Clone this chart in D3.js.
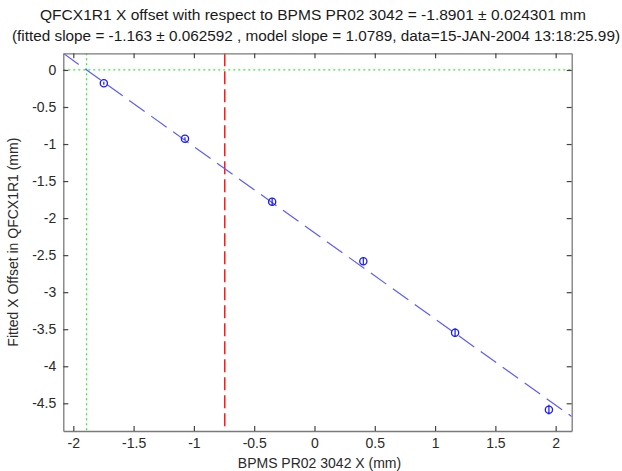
<!DOCTYPE html>
<html>
<head>
<meta charset="utf-8">
<script src="https://cdn.jsdelivr.net/npm/d3@7"></script>
<style>
  html, body { margin: 0; padding: 0; background: #fff; }
  svg { display: block; }
  text { font-family: "Liberation Sans", Arial, sans-serif; }
</style>
</head>
<body>
<svg id="chart" width="622" height="471"></svg>
<script>
// ---- data ----
const titleText = "QFCX1R1 X offset with respect to BPMS PR02 3042 = -1.8901 \u00B1 0.024301 mm";
const subtitleText = "(fitted slope = -1.163 \u00B1 0.062592 , model slope = 1.0789, data=15-JAN-2004 13:18:25.99)";
const xLabel = "BPMS PR02 3042 X (mm)";
const yLabel = "Fitted X Offset in QFCX1R1 (mm)";
const bpmX = [-1.747, -1.074, -0.351, 0.405, 1.166, 1.944];
const offsetY = [-0.180, -0.927, -1.778, -2.583, -3.546, -4.586];
const offsetErr = [0.02, 0.02, 0.05, 0.045, 0.06, 0.065];
const xDomain = [-2.083, 2.133];
const yDomain = [0.225, -4.874];
const xTicks = [-2, -1.5, -1, -0.5, 0, 0.5, 1, 1.5, 2];
const yTicks = [0, -0.5, -1, -1.5, -2, -2.5, -3, -3.5, -4, -4.5];
const fitSlope = -1.163;
const zeroCross = -1.8901;   // fitted offset (green)
const modelLine = -0.744;    // red dashed marker

// ---- layout ----
const L = 63.3, R = 571.7, T = 53.3, B = 431;
const svg = d3.select("#chart");
const x = d3.scaleLinear().domain(xDomain).range([L, R]);
const y = d3.scaleLinear().domain(yDomain).range([T, B]);
const fmt = d => String(d);

const axisColor = "#7a7a7a";
const labelColor = "#2a2a2a";

// clip
svg.append("clipPath").attr("id", "clip")
  .append("rect").attr("x", L).attr("y", T).attr("width", R - L).attr("height", B - T);
const plot = svg.append("g").attr("clip-path", "url(#clip)");

// green dotted lines
plot.append("line")
  .attr("x1", L).attr("x2", R).attr("y1", y(0)).attr("y2", y(0))
  .attr("stroke", "#33ee33").attr("stroke-width", 1.3).attr("stroke-dasharray", "2,3");
plot.append("line")
  .attr("x1", x(zeroCross)).attr("x2", x(zeroCross)).attr("y1", T).attr("y2", B)
  .attr("stroke", "#33ee33").attr("stroke-width", 1.3).attr("stroke-dasharray", "2,3");

// red dashed line
plot.append("line")
  .attr("x1", x(modelLine)).attr("x2", x(modelLine)).attr("y1", T).attr("y2", B)
  .attr("stroke", "#ff1a1a").attr("stroke-width", 1.5).attr("stroke-dasharray", "13,5");

// fitted line
const fitLine = d3.line().x(d => x(d)).y(d => y(fitSlope * (d - zeroCross)));
plot.append("path")
  .datum(xDomain)
  .attr("d", fitLine)
  .attr("fill", "none")
  .attr("stroke", "#5c5cff").attr("stroke-width", 1.2).attr("stroke-dasharray", "19,8");

// data points with error bars
const pts = bpmX.map((v, i) => ({ x: v, y: offsetY[i], e: offsetErr[i] }));
const pg = plot.append("g");
pg.selectAll("line.err").data(pts).join("line")
  .attr("class", "err")
  .attr("x1", d => x(d.x)).attr("x2", d => x(d.x))
  .attr("y1", d => y(d.y + d.e)).attr("y2", d => y(d.y - d.e))
  .attr("stroke", "#1a1aff").attr("stroke-width", 1.2);
pg.selectAll("circle").data(pts).join("circle")
  .attr("cx", d => x(d.x)).attr("cy", d => y(d.y)).attr("r", 3.6)
  .attr("fill", "none").attr("stroke", "#1a1aff").attr("stroke-width", 1.3);

// axes
const axB = svg.append("g").attr("transform", `translate(0,${B})`)
  .call(d3.axisBottom(x).tickValues(xTicks).tickFormat(fmt).tickSizeInner(-5).tickSizeOuter(0).tickPadding(7));
const axT = svg.append("g").attr("transform", `translate(0,${T})`)
  .call(d3.axisTop(x).tickValues(xTicks).tickFormat("").tickSizeInner(-5).tickSizeOuter(0));
const axL = svg.append("g").attr("transform", `translate(${L},0)`)
  .call(d3.axisLeft(y).tickValues(yTicks).tickFormat(fmt).tickSizeInner(-5).tickSizeOuter(0).tickPadding(7));
const axR = svg.append("g").attr("transform", `translate(${R},0)`)
  .call(d3.axisRight(y).tickValues(yTicks).tickFormat("").tickSizeInner(-5).tickSizeOuter(0));

[axB, axT, axL, axR].forEach(g => {
  g.select(".domain").attr("stroke", axisColor).attr("stroke-width", 1.3);
  g.selectAll(".tick line").attr("stroke", "#444").attr("stroke-width", 1.2);
  g.selectAll("text").attr("fill", labelColor).style("font-size", "14px")
    .style("font-family", "'Liberation Sans', Arial, sans-serif");
});

// titles
svg.append("text").attr("x", 313).attr("y", 20).attr("text-anchor", "middle")
  .attr("textLength", 546).attr("lengthAdjust", "spacingAndGlyphs")
  .style("font-size", "14px").attr("fill", "#1a1a1a").text(titleText);
svg.append("text").attr("x", 316).attr("y", 41).attr("text-anchor", "middle")
  .attr("textLength", 608).attr("lengthAdjust", "spacingAndGlyphs")
  .style("font-size", "14px").attr("fill", "#1a1a1a").text(subtitleText);

// axis labels
svg.append("text").attr("x", (L + R) / 2 + 2).attr("y", 468).attr("text-anchor", "middle")
  .style("font-size", "14px").attr("fill", labelColor).text(xLabel);
svg.append("text")
  .attr("transform", `translate(18,${(T + B) / 2}) rotate(-90)`)
  .attr("text-anchor", "middle")
  .style("font-size", "14px").attr("fill", labelColor).text(yLabel);
</script>
</body>
</html>
